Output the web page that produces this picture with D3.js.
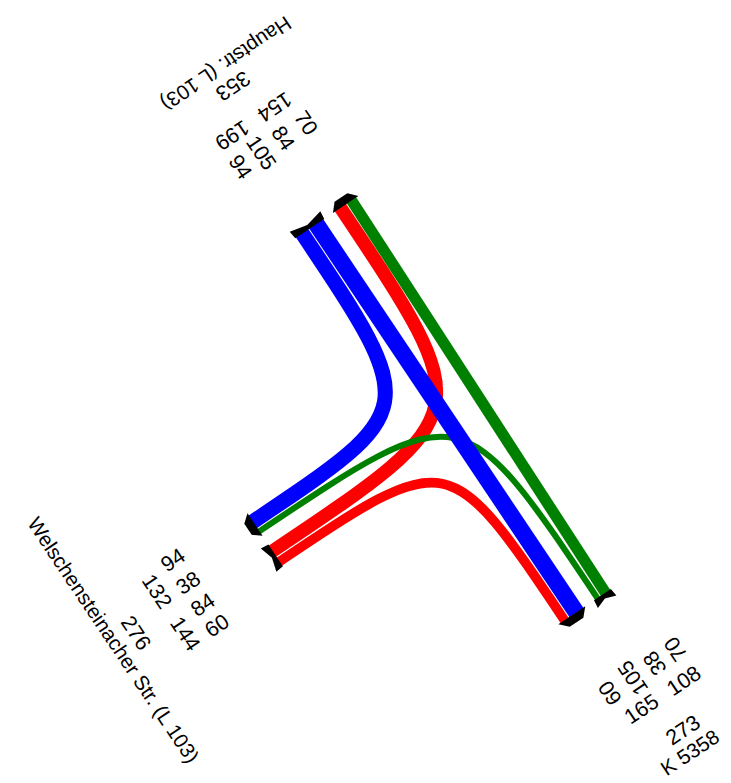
<!DOCTYPE html>
<html>
<head>
<meta charset="utf-8">
<script src="https://cdn.jsdelivr.net/npm/d3@7"></script>
<style>
  body { margin: 0; background: #fff; }
  text { font-family: "Liberation Sans", Arial, sans-serif; fill: #000; }
</style>
</head>
<body>
<div id="chart"></div>
<script>
// Knotenstrombelastung, T-junction (three arms)
var arms = ['Hauptstr. (L 103)', 'Welschensteinacher Str. (L 103)', 'K 5358'];
var armColors = ['#0000ff', '#ff0000', '#008000'];

// turning flows: from arm, to arm, vehicles
var flowFrom = [0, 0, 1, 1, 2, 2];
var flowTo = [1, 2, 0, 2, 0, 1];
var flowVal = [94, 105, 84, 60, 70, 38];

var width = 731, height = 783;
var cx = 458, cy = 408;
var baseAngle = 56.2;
var armAngle = [baseAngle - 180, baseAngle + 90, baseAngle];
var armLen = 234, groupGap = 14, laneGap = 1;
var shift = 2; // junction centre sits a little towards K 5358

var w = d3.scaleLinear().domain([0, 100]).range([0, 16]);

var svg = d3.select('#chart').append('svg')
    .attr('width', width)
    .attr('height', height);

function dir(i) {
  var a = armAngle[i] * Math.PI / 180;
  return {x: Math.cos(a), y: Math.sin(a)};
}

var main = dir(2);
var jx = cx + shift * main.x, jy = cy + shift * main.y;

// point on arm i: t outward, r lateral, around centre (ox, oy)
function pt(i, t, r, ox, oy) {
  var d = dir(i);
  if (ox === undefined) { ox = jx; oy = jy; }
  return [ox + t * d.x + r * d.y, oy + t * d.y - r * d.x];
}

function flowIndex(a, b) {
  for (var k = 0; k < flowVal.length; k++) {
    if (flowFrom[k] === a && flowTo[k] === b) { return k; }
  }
  return -1;
}

var rStart = [], rEnd = [], groups = [];

arms.forEach(function (name, i) {
  var order = [(i + 2) % 3, (i + 1) % 3];
  var inc = order.map(function (o) { return flowIndex(o, i); });
  var out = order.map(function (o) { return flowIndex(i, o); });

  var wIn = d3.sum(inc, function (k) { return w(flowVal[k]); }) + laneGap * (inc.length - 1);
  var wOut = d3.sum(out, function (k) { return w(flowVal[k]); }) + laneGap * (out.length - 1);

  var r = -groupGap / 2 - wIn;
  inc.forEach(function (k) {
    rEnd[k] = r + w(flowVal[k]) / 2;
    r += w(flowVal[k]) + laneGap;
  });
  r = groupGap / 2;
  out.forEach(function (k) {
    rStart[k] = r + w(flowVal[k]) / 2;
    r += w(flowVal[k]) + laneGap;
  });

  groups.push({
    inc: inc, out: out,
    in0: -groupGap / 2 - wIn, in1: -groupGap / 2,
    out0: groupGap / 2, out1: groupGap / 2 + wOut
  });
});

function flowPath(k) {
  var o = flowFrom[k], e = flowTo[k];
  var s = pt(o, armLen, rStart[k]);
  var f = pt(e, armLen, rEnd[k]);
  var dO = dir(o), dE = dir(e);
  var p = d3.path();
  p.moveTo(s[0], s[1]);
  var det = -dO.x * dE.y + dE.x * dO.y;
  if (Math.abs(det) < 1e-6) {
    p.lineTo(f[0], f[1]);
  } else {
    var ex = f[0] - s[0], ey = f[1] - s[1];
    var t = (ex * dE.y - dE.x * ey) / det;
    var c = [s[0] - t * dO.x, s[1] - t * dO.y];
    p.bezierCurveTo(c[0], c[1], c[0], c[1], f[0], f[1]);
  }
  return p.toString();
}

// draw order: Welschensteinacher, K 5358, Hauptstr.
var drawOrder = [2, 3, 4, 5, 0, 1];

svg.append('g').selectAll('path')
  .data(drawOrder)
  .enter().append('path')
  .attr('d', flowPath)
  .attr('fill', 'none')
  .attr('stroke', function (k) { return armColors[flowFrom[k]]; })
  .attr('stroke-width', function (k) { return w(flowVal[k]); });

// arrow heads on incoming lanes, tails on outgoing lanes
function polyPts(i, list) {
  return list.map(function (q) { return pt(i, q[0], q[1]).join(','); }).join(' ');
}

var marks = svg.append('g');
groups.forEach(function (g, i) {
  var a0 = g.in0, a1 = g.in1, aw = a1 - a0;
  marks.append('polygon')
    .attr('fill', '#000')
    .attr('points', polyPts(i, [
      [armLen - 0.5, a0 - 2.5], [armLen - 0.5, a1 + 2.5],
      [armLen + 8, a1 - aw * 0.2], [armLen + 8, a0 + aw * 0.2]
    ]));
  var b0 = g.out0, b1 = g.out1;
  marks.append('polygon')
    .attr('fill', '#000')
    .attr('points', polyPts(i, [
      [armLen - 0.5, b0 - 1], [armLen - 0.5, b1 + 1],
      [armLen + 8, b1 + 2], [armLen + 4, (b0 + b1) / 2],
      [armLen + 8, b0 - 2]
    ]));
});

// labels per arm
var rowDist = [321.5, 352.5, 393, 415];
var row1Off = [-32, -4.5, 21.8, 47];
var row2Off = [-15, 36];
var row3Off = 7.8, nameOff = 1;
var fontSize = 21.5, nameSize = 20.5;

var labels = svg.append('g');

// along = true: the number reads along the lane, towards the junction
function label(i, t, r, txt, along, size) {
  var d = dir(i);
  var p = pt(i, t, r, cx, cy);
  var rot = along ? Math.atan2(-d.y, -d.x) * 180 / Math.PI
                  : Math.atan2(-d.x, d.y) * 180 / Math.PI;
  labels.append('text')
    .attr('transform', 'translate(' + p[0] + ',' + p[1] + ') rotate(' + rot + ')')
    .attr('text-anchor', 'middle')
    .attr('dominant-baseline', 'central')
    .style('font-size', (size || fontSize) + 'px')
    .text(txt);
}

groups.forEach(function (g, i) {
  var vals = g.inc.concat(g.out).map(function (k) { return flowVal[k]; });
  vals.forEach(function (v, j) { label(i, rowDist[0], row1Off[j], v, true); });
  var sIn = d3.sum(g.inc, function (k) { return flowVal[k]; });
  var sOut = d3.sum(g.out, function (k) { return flowVal[k]; });
  label(i, rowDist[1], row2Off[0], sIn, false);
  label(i, rowDist[1], row2Off[1], sOut, false);
  label(i, rowDist[2], row3Off, sIn + sOut, false);
  label(i, rowDist[3], nameOff, arms[i], false, nameSize);
});
</script>
</body>
</html>
